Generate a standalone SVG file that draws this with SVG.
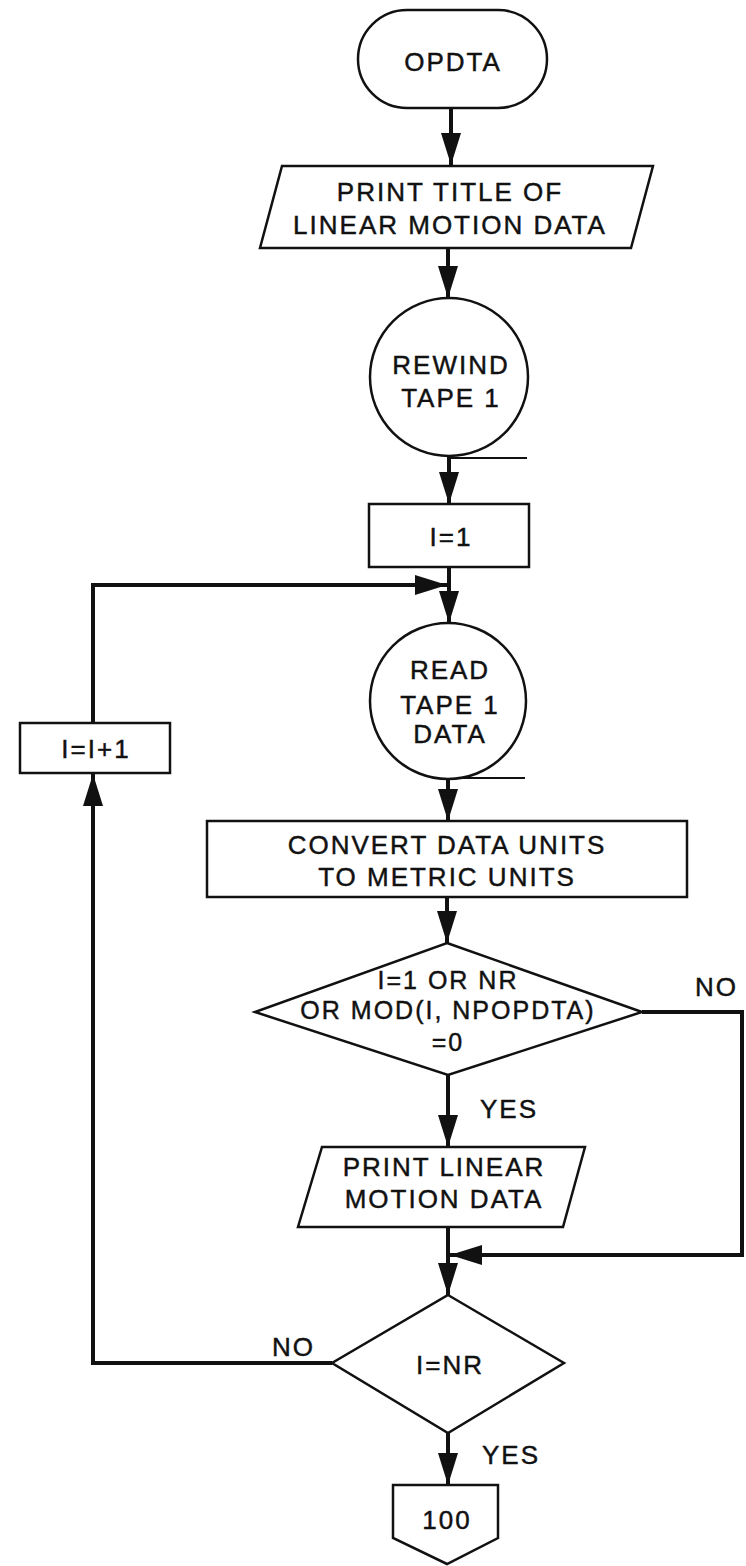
<svg xmlns="http://www.w3.org/2000/svg" width="746" height="1566" viewBox="0 0 746 1566">
<defs>
<marker id="ah" markerUnits="userSpaceOnUse" markerWidth="32" markerHeight="22" viewBox="0 0 32 22" refX="32" refY="11" orient="auto">
<path d="M0,1 L32,11 L0,21 z" fill="#111"/>
</marker>
<style>
.s{fill:#fff;stroke:#111;stroke-width:2.5}
.c{fill:none;stroke:#111;stroke-width:4}
.t{fill:none;stroke:#111;stroke-width:2}
text{font-family:"Liberation Sans",Arial,sans-serif;font-size:26px;fill:#111;stroke:#111;stroke-width:0.45;letter-spacing:2px;text-anchor:middle}
.l{text-anchor:start}
.d{font-size:25px}
</style>
</defs>
<rect width="746" height="1566" fill="#fff"/>
<g id="connectors">
<line class="c" x1="451" y1="108" x2="451" y2="165" marker-end="url(#ah)"/>
<line class="c" x1="448" y1="248" x2="448" y2="298" marker-end="url(#ah)"/>
<line class="c" x1="449" y1="456" x2="449" y2="504" marker-end="url(#ah)"/>
<line class="c" x1="449" y1="567" x2="449" y2="623" marker-end="url(#ah)"/>
<polyline class="c" points="93,723 93,585 447,585" marker-end="url(#ah)"/>
<line class="c" x1="448" y1="779" x2="448" y2="821" marker-end="url(#ah)"/>
<line class="c" x1="447" y1="897" x2="447" y2="943" marker-end="url(#ah)"/>
<line class="c" x1="448" y1="1075" x2="448" y2="1147" marker-end="url(#ah)"/>
<polyline class="c" points="642,1012 742,1012 742,1255 450,1255" marker-end="url(#ah)"/>
<line class="c" x1="448" y1="1227" x2="448" y2="1295" marker-end="url(#ah)"/>
<polyline class="c" points="332,1363 93,1363 93,774" marker-end="url(#ah)"/>
<line class="c" x1="448" y1="1433" x2="448" y2="1485" marker-end="url(#ah)"/>
<line class="t" x1="449" y1="458" x2="527" y2="458"/>
<line class="t" x1="448" y1="778" x2="525" y2="778"/>
<text class="l" x="695" y="996">NO</text>
<text class="l" x="480" y="1118">YES</text>
<text class="l" x="272" y="1356">NO</text>
<text class="l" x="482" y="1464">YES</text>
</g>
<g id="opdta">
<rect class="s" x="358" y="10" width="189" height="98" rx="49" ry="49"/>
<text x="453" y="71">OPDTA</text>
</g>
<g id="print-title">
<polygon class="s" points="282,166 653,166 631,248 260,248"/>
<text x="450" y="201">PRINT TITLE OF</text>
<text x="450" y="234">LINEAR MOTION DATA</text>
</g>
<g id="rewind">
<circle class="s" cx="449" cy="377" r="79"/>
<text x="451" y="374">REWIND</text>
<text x="451" y="407">TAPE 1</text>
</g>
<g id="init">
<rect class="s" x="369" y="504" width="160" height="63"/>
<text x="451" y="546">I=1</text>
</g>
<g id="read">
<circle class="s" cx="448" cy="701" r="78"/>
<text x="450" y="679">READ</text>
<text x="450" y="714">TAPE 1</text>
<text x="450" y="743">DATA</text>
</g>
<g id="convert">
<rect class="s" x="207" y="821" width="480" height="76"/>
<text x="447" y="854">CONVERT DATA UNITS</text>
<text x="447" y="886">TO METRIC UNITS</text>
</g>
<g id="decision1">
<polygon class="s" points="447,943 642,1012 448,1075 255,1012"/>
<text class="d" x="448" y="989">I=1 OR NR</text>
<text class="d" x="448" y="1019">OR MOD(I, NPOPDTA)</text>
<text class="d" x="448" y="1051">=0</text>
</g>
<g id="print-data">
<polygon class="s" points="322,1147 585,1147 563,1227 298,1227"/>
<text x="444" y="1176">PRINT LINEAR</text>
<text x="444" y="1208">MOTION DATA</text>
</g>
<g id="decision2">
<polygon class="s" points="448,1295 564,1363 448,1433 332,1363"/>
<text x="450" y="1374">I=NR</text>
</g>
<g id="increment">
<rect class="s" x="20" y="723" width="150" height="50"/>
<text x="96" y="758">I=I+1</text>
</g>
<g id="offpage">
<polygon class="s" points="393,1485 498,1485 498,1538 447,1564 393,1538"/>
<text x="447" y="1529">100</text>
</g>
</svg>
